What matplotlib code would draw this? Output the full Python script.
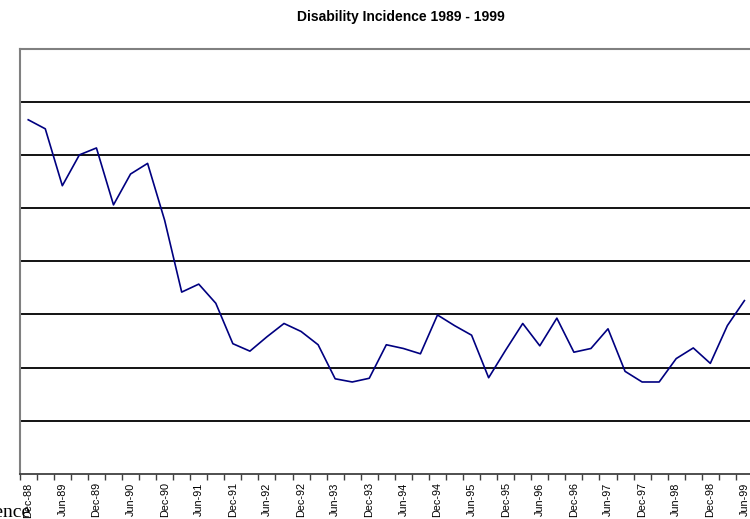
import matplotlib
matplotlib.use("Agg")
import matplotlib.pyplot as plt

# quarterly categories, Dec-88 .. Jun-99
months = ["Dec", "Mar", "Jun", "Sep"]
quarters = []
yr = 88
for k in range(43):
    m = months[k % 4]
    if m == "Mar":
        yr += 1
    quarters.append("%s-%02d" % (m, yr % 100))

incidence = [6.66, 6.49, 5.42, 6.00, 6.13, 5.06, 5.64, 5.84, 4.77, 3.42,
             3.57, 3.21, 2.45, 2.31, 2.58, 2.83, 2.68, 2.43, 1.79, 1.73,
             1.80, 2.43, 2.36, 2.26, 2.99, 2.79, 2.61, 1.81, 2.33, 2.83,
             2.41, 2.93, 2.29, 2.36, 2.73, 1.93, 1.73, 1.73, 2.17, 2.37,
             2.08, 2.79, 3.26]

W, H = 750, 519
fig = plt.figure(figsize=(W / 100, H / 100), dpi=100)
# chart is cropped on the right, so the axes run past the figure edge
left, right, top, bottom = 19.7, 770, 48.5, 474
step = 17.2
ax = fig.add_axes([left / W, (H - bottom) / H, (right - left) / W, (bottom - top) / H])

x = list(range(len(incidence)))
ax.plot(x, incidence, color="#000080", lw=1.2, zorder=3, clip_on=False)

ax.set_xlim(-0.5, -0.5 + (right - left) / step)
ax.set_ylim(0, 8)

# horizontal gridlines
for g in range(1, 8):
    ax.axhline(g, color="black", lw=1.3, zorder=1)

ax.set_yticks([])
# ticks between categories, labels on every other category
ax.set_xticks([k - 0.5 for k in range(len(incidence) + 2)])
ax.set_xticklabels([])
ax.tick_params(axis="x", which="major", direction="out", length=4, width=1, color="#404040")
ax.set_xticks(x[::2], minor=True)
ax.set_xticklabels(quarters[::2], minor=True, rotation=90, fontsize=7.8,
                   family="Liberation Sans")
ax.tick_params(axis="x", which="minor", length=0, pad=6)

for s in ["left", "top", "right"]:
    ax.spines[s].set_color("#808080")
    ax.spines[s].set_linewidth(1.5)
ax.spines["bottom"].set_color("#404040")
ax.spines["bottom"].set_linewidth(1.3)

fig.text(401 / W, 1 - 17 / H, "Disability Incidence 1989 - 1999", ha="center", va="center",
         fontsize=10, fontweight="bold", family="Liberation Sans")
fig.text(30 / W, 2 / H, "Incidence", ha="right", va="baseline", fontsize=14,
         family="Liberation Serif")

fig.savefig("out.png", dpi=100)
